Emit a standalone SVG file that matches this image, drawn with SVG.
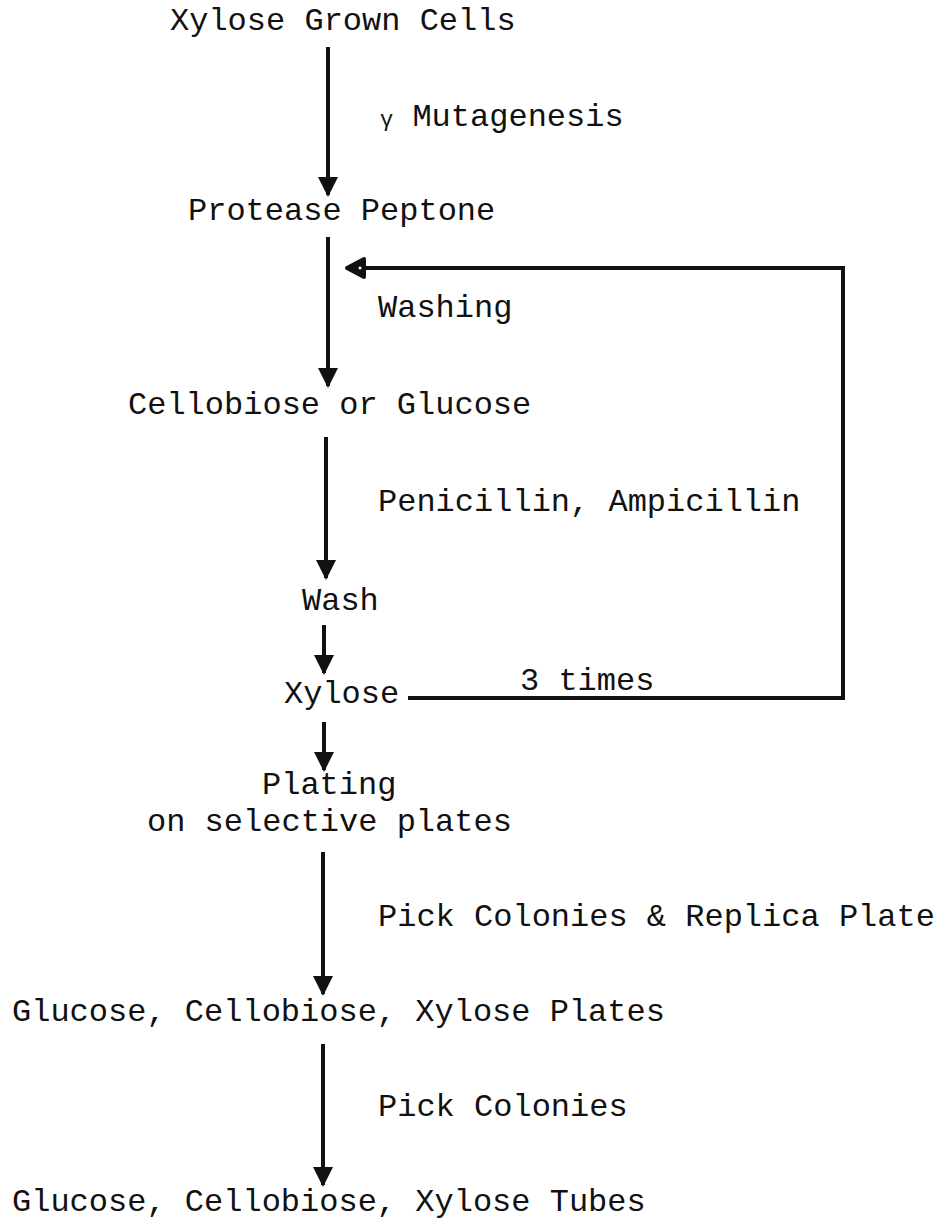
<svg xmlns="http://www.w3.org/2000/svg" width="948" height="1224" viewBox="0 0 948 1224">
<style>
text{font-family:"Liberation Mono","Courier New",monospace;font-size:32px;fill:#111}
.ln{stroke:#111;stroke-width:4;fill:none}
</style>
<defs>
<marker id="arr" viewBox="0 0 10 10" refX="9" refY="5" markerWidth="5" markerHeight="5" orient="auto" markerUnits="strokeWidth">
<path d="M0,0 L10,5 L0,10 z" fill="#111"/>
</marker>
</defs>
<rect width="948" height="1224" fill="#fff"/>
<g id="n1"><text x="170" y="30">Xylose Grown Cells</text></g>
<g id="n2"><text x="188" y="220">Protease Peptone</text></g>
<g id="n3"><text x="128" y="414">Cellobiose or Glucose</text></g>
<g id="n4"><text x="302" y="610">Wash</text></g>
<g id="n5"><text x="284" y="703">Xylose</text></g>
<g id="n6"><text x="262" y="794">Plating</text><text x="147" y="831">on selective plates</text></g>
<g id="n7"><text x="12" y="1021">Glucose, Cellobiose, Xylose Plates</text></g>
<g id="n8"><text x="12" y="1211">Glucose, Cellobiose, Xylose Tubes</text></g>
<g id="labels">
<text x="380" y="126"><tspan font-size="22">γ</tspan> Mutagenesis</text>
<text x="378" y="317">Washing</text>
<text x="378" y="511">Penicillin, Ampicillin</text>
<text x="520" y="690">3 times</text>
<text x="378" y="926">Pick Colonies &amp; Replica Plate</text>
<text x="378" y="1116">Pick Colonies</text>
</g>
<g id="connectors">
<line class="ln" x1="328" y1="47" x2="328" y2="195" marker-end="url(#arr)"/>
<line class="ln" x1="328" y1="237" x2="328" y2="386" marker-end="url(#arr)"/>
<line class="ln" x1="326" y1="437" x2="326" y2="578" marker-end="url(#arr)"/>
<line class="ln" x1="324" y1="625" x2="324" y2="673" marker-end="url(#arr)"/>
<line class="ln" x1="324" y1="722" x2="324" y2="770" marker-end="url(#arr)"/>
<line class="ln" x1="323" y1="852" x2="323" y2="994" marker-end="url(#arr)"/>
<line class="ln" x1="323" y1="1044" x2="323" y2="1185" marker-end="url(#arr)"/>
<polyline class="ln" points="408,698 843,698 843,268 362,268"/>
<polygon points="347,268 364,259 364,277" fill="#111" stroke="#111" stroke-width="4" stroke-linejoin="round"/>
<circle cx="360" cy="268" r="1.5" fill="#fff"/>
</g>
</svg>
